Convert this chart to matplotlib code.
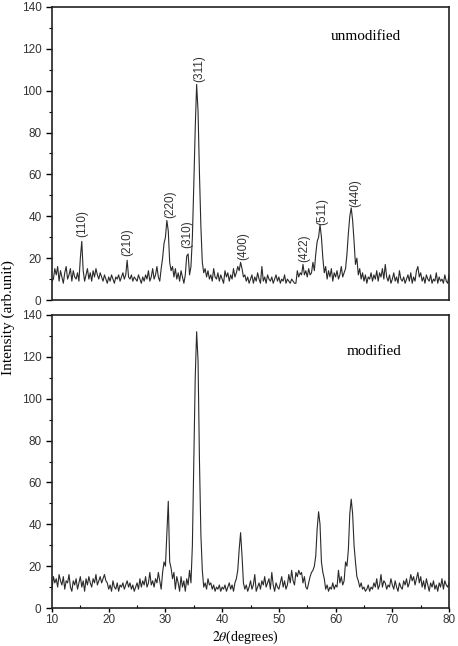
import matplotlib
matplotlib.use("Agg")
import matplotlib.pyplot as plt
import numpy as np
from matplotlib import ticker

# 2theta grid, 0.25 degree steps from 10 to 80
two_theta = np.arange(10, 80.001, 0.25)

unmodified = [
    9, 10, 15, 12, 16, 9, 14, 11, 8, 13, 16, 10, 12, 15, 9, 14, 11, 10, 13, 9,
    20, 28, 14, 9, 12, 15, 10, 13, 9, 14, 11, 15, 12, 10, 13, 11, 9, 12, 10, 8,
    11, 9, 12, 10, 8, 11, 10, 12, 9, 11, 13, 10, 12, 19, 11, 10, 12, 9, 11, 10,
    9, 12, 10, 8, 11, 9, 12, 10, 14, 9, 11, 15, 10, 12, 16, 11, 9, 15, 20, 27,
    30, 38, 33, 18, 14, 16, 11, 15, 10, 13, 9, 14, 11, 8, 12, 21, 22, 12, 16, 30,
    55, 82, 103, 90, 60, 35, 18, 13, 15, 11, 14, 10, 12, 9, 15, 11, 10, 13, 9, 12,
    10, 8, 14, 11, 13, 9, 12, 10, 15, 11, 13, 16, 14, 18, 15, 11, 12, 9, 11, 8,
    10, 12, 8, 11, 9, 13, 10, 8, 16, 9, 11, 8, 12, 10, 9, 11, 8, 10, 12, 9,
    11, 8, 10, 9, 12, 8, 10, 9, 8, 10, 9, 8, 8, 14, 11, 13, 12, 17, 12, 14,
    11, 15, 12, 13, 18, 14, 22, 28, 30, 36, 30, 20, 13, 16, 10, 14, 11, 15, 9, 13,
    11, 14, 10, 12, 16, 11, 13, 15, 22, 32, 40, 44, 38, 28, 17, 20, 12, 15, 10, 13,
    9, 12, 8, 11, 10, 13, 9, 12, 10, 14, 9, 13, 11, 15, 10, 17, 11, 9, 12, 8,
    10, 13, 9, 11, 8, 14, 10, 9, 11, 8, 10, 12, 9, 13, 8, 11, 9, 14, 16, 11,
    13, 9, 11, 8, 12, 10, 9, 12, 8, 10, 9, 13, 8, 11, 9, 10, 8, 12, 9, 8,
    12,
]

modified = [
    9, 15, 12, 14, 10, 16, 13, 11, 15, 9, 13, 12, 16, 10, 8, 13, 11, 14, 9, 12,
    15, 10, 13, 8, 14, 11, 15, 12, 10, 14, 12, 16, 11, 13, 15, 12, 14, 16, 13, 12,
    9, 11, 8, 13, 10, 9, 12, 8, 11, 10, 12, 9, 11, 13, 10, 12, 9, 11, 8, 10,
    12, 9, 14, 10, 13, 11, 15, 10, 12, 17, 11, 13, 10, 14, 12, 17, 13, 9, 17, 22,
    20, 35, 51, 22, 19, 14, 17, 9, 15, 12, 8, 15, 10, 13, 8, 14, 11, 18, 12, 30,
    70, 110, 132, 118, 70, 35, 18, 10, 12, 9, 14, 11, 12, 9, 11, 8, 10, 9, 11, 8,
    10, 9, 11, 8, 10, 12, 9, 11, 8, 12, 14, 18, 28, 36, 25, 12, 9, 11, 8, 10,
    13, 9, 11, 16, 8, 10, 12, 9, 13, 11, 15, 10, 12, 14, 9, 17, 11, 8, 12, 10,
    9, 12, 15, 10, 13, 9, 11, 16, 12, 18, 13, 11, 17, 15, 18, 16, 17, 12, 15, 10,
    9, 12, 15, 17, 18, 20, 25, 38, 46, 40, 22, 17, 14, 9, 11, 8, 10, 9, 12, 9,
    11, 10, 18, 12, 15, 11, 13, 22, 20, 28, 45, 52, 45, 30, 22, 15, 13, 10, 12, 9,
    10, 8, 9, 11, 8, 10, 9, 12, 10, 14, 9, 11, 16, 10, 13, 12, 9, 11, 10, 14,
    11, 9, 13, 10, 8, 12, 10, 9, 13, 11, 14, 10, 12, 16, 13, 15, 11, 14, 17, 12,
    15, 10, 13, 9, 14, 11, 8, 12, 10, 13, 9, 11, 8, 12, 10, 14, 9, 13, 11, 10,
    12,
]

# peak labels (hkl) for the unmodified pattern
hkl_labels = ['(110)', '(210)', '(220)', '(310)', '(311)', '(400)', '(422)', '(511)', '(440)']
hkl_x = [15.3, 23.3, 30.8, 33.9, 35.9, 43.7, 54.4, 57.6, 63.4]
hkl_y = [30, 21, 39, 25, 104, 19, 18, 36, 44.5]

plt.rcParams['font.family'] = ['Liberation Sans', 'DejaVu Sans']
plt.rcParams['mathtext.fontset'] = 'stix'

fig = plt.figure(figsize=(4.58, 6.46), dpi=100)
ax1 = fig.add_axes([0.1135, 0.5356, 0.867, 0.4536])
ax2 = fig.add_axes([0.1135, 0.0588, 0.867, 0.4536])

line_color = '#2a2a2a'
for ax, y in [(ax1, unmodified), (ax2, modified)]:
    ax.plot(two_theta, y, color=line_color, linewidth=0.8)
    ax.set_xlim(10, 80)
    ax.set_ylim(0, 140)
    ax.yaxis.set_major_locator(ticker.MultipleLocator(20))
    ax.yaxis.set_minor_locator(ticker.MultipleLocator(10))
    ax.xaxis.set_major_locator(ticker.MultipleLocator(10))
    ax.xaxis.set_minor_locator(ticker.MultipleLocator(5))
    ax.tick_params(axis='y', which='major', direction='out', length=4, width=1,
                   labelsize=8.5, labelcolor='#333333')
    ax.tick_params(axis='y', which='minor', direction='out', length=2, width=0.8)
    ax.tick_params(axis='x', which='major', direction='out', length=3, width=1,
                   labelsize=8.5, labelcolor='#333333', pad=1.5)
    ax.tick_params(axis='x', which='minor', direction='in', length=2, width=0.8)
    for sp in ax.spines.values():
        sp.set_linewidth(1.2)
        sp.set_color('#222222')

ax1.tick_params(axis='x', which='both', bottom=False, labelbottom=False)

for lab, x, y in zip(hkl_labels, hkl_x, hkl_y):
    ax1.text(x, y, lab, rotation=90, ha='center', va='bottom',
             fontsize=8.5, color='#333333')

ax1.text(65.4, 126, 'unmodified', ha='center', va='center',
         family='Liberation Serif', fontsize=11)
ax2.text(66.7, 122.6, 'modified', ha='center', va='center',
         family='Liberation Serif', fontsize=11)

fig.text(0.018, 0.508, 'Intensity (arb.unit)', rotation=90, ha='center', va='center',
         family='Liberation Serif', fontsize=11)
fig.text(0.535, 0.0, r'$2\theta$(degrees)', ha='center', va='bottom',
         family='Liberation Serif', fontsize=10)

plt.savefig('out.png', dpi=100)
